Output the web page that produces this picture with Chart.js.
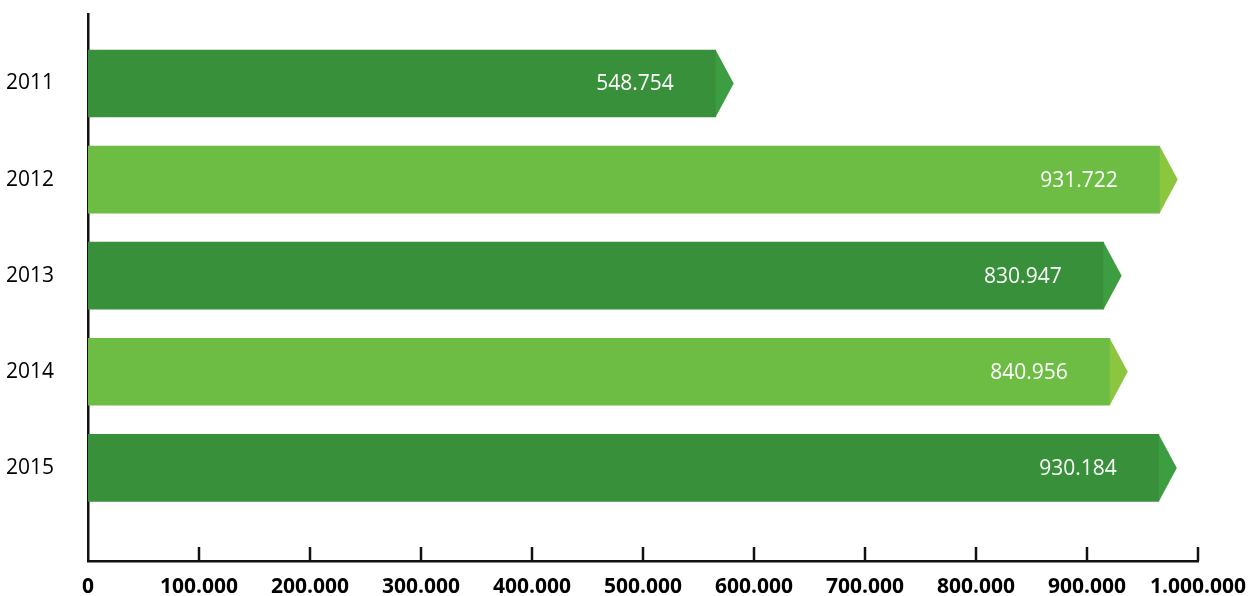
<!DOCTYPE html>
<html>
<head>
<meta charset="utf-8">
<script src="https://cdn.jsdelivr.net/npm/chart.js@4"></script>
<style>
  html, body { margin: 0; padding: 0; background: #fff; }
  #wrap { width: 1252px; height: 596px; }
</style>
</head>
<body>
<div id="wrap"><canvas id="chart" width="1252" height="596"></canvas></div>
<script>
const years = ["2011", "2012", "2013", "2014", "2015"];
const values = [548754, 931722, 830947, 840956, 930184];          // printed on the bars
const barLengths = [565500, 965500, 915000, 920500, 964700];      // bar ends as drawn against the axis
const xTicks = [0, 100000, 200000, 300000, 400000, 500000, 600000, 700000, 800000, 900000, 1000000];

const bodyColors = ["#38913a", "#6dbd45", "#38913a", "#6dbd45", "#38913a"];
const tipColors = ["#3d9e41", "#8cc63f", "#3d9e41", "#8cc63f", "#3d9e41"];

const fmt = v => String(v).replace(/\B(?=(\d{3})+(?!\d))/g, ".");

// arrow tips + white value labels
const arrowLabels = {
    id: "arrowLabels",
    afterDatasetsDraw(chart) {
        const ctx = chart.ctx;
        chart.getDatasetMeta(0).data.forEach((bar, i) => {
            const h = bar.height;
            ctx.save();
            ctx.fillStyle = tipColors[i];
            ctx.beginPath();
            ctx.moveTo(bar.x, bar.y - h / 2);
            ctx.lineTo(bar.x + 18, bar.y);
            ctx.lineTo(bar.x, bar.y + h / 2);
            ctx.closePath();
            ctx.fill();
            ctx.fillStyle = "#fff";
            ctx.font = "21px 'Open Sans'";
            ctx.textAlign = "right";
            ctx.textBaseline = "middle";
            ctx.fillText(fmt(values[i]), bar.x - 42, bar.y + 1);
            ctx.restore();
        });
    }
};

// small tick marks standing up from the x axis
const axisMarks = {
    id: "axisMarks",
    afterDraw(chart) {
        const ctx = chart.ctx;
        const x = chart.scales.x;
        const bottom = chart.chartArea.bottom;
        ctx.save();
        ctx.strokeStyle = "#111";
        ctx.lineWidth = 2.5;
        xTicks.slice(1).forEach(v => {
            const px = Math.round(x.getPixelForValue(v));
            ctx.beginPath();
            ctx.moveTo(px, bottom);
            ctx.lineTo(px, bottom - 14);
            ctx.stroke();
        });
        ctx.restore();
    }
};

const noPad = s => { s.paddingTop = 0; s.paddingBottom = 0; s.paddingLeft = 0; s.paddingRight = 0; };

new Chart(document.getElementById("chart").getContext("2d"), {
    type: "bar",
    data: {
        datasets: [{
            data: barLengths.map((v, i) => ({ x: v, y: i })),
            backgroundColor: bodyColors,
            borderWidth: 0,
            barThickness: 67
        }]
    },
    options: {
        indexAxis: "y",
        responsive: false,
        animation: false,
        layout: { padding: { top: 14, right: 54, left: 0, bottom: 0 } },
        plugins: { legend: { display: false }, tooltip: { enabled: false } },
        scales: {
            x: {
                type: "linear",
                min: 0,
                max: 1000000,
                afterBuildTicks: s => { s.ticks = xTicks.map(v => ({ value: v })); },
                afterFit: s => { s.height = 35; noPad(s); },
                grid: { display: false, drawTicks: false },
                border: { display: true, color: "#111", width: 2.5 },
                ticks: {
                    color: "#000",
                    padding: 13,
                    maxRotation: 0,
                    autoSkip: false,
                    font: { family: "'Open Sans'", size: 21, weight: "bold" },
                    callback: v => fmt(v)
                }
            },
            y: {
                type: "linear",
                reverse: true,
                offset: false,
                min: -0.723,
                max: 4.969,
                afterBuildTicks: s => { s.ticks = years.map((_, i) => ({ value: i })); },
                afterFit: s => { s.width = 88; noPad(s); },
                grid: { display: false, drawTicks: false, offset: false },
                border: { display: true, color: "#111", width: 2.5 },
                ticks: {
                    color: "#000",
                    padding: 34,
                    autoSkip: false,
                    font: { family: "'Open Sans'", size: 21 },
                    callback: v => years[v]
                }
            }
        }
    },
    plugins: [arrowLabels, axisMarks]
});
</script>
</body>
</html>
